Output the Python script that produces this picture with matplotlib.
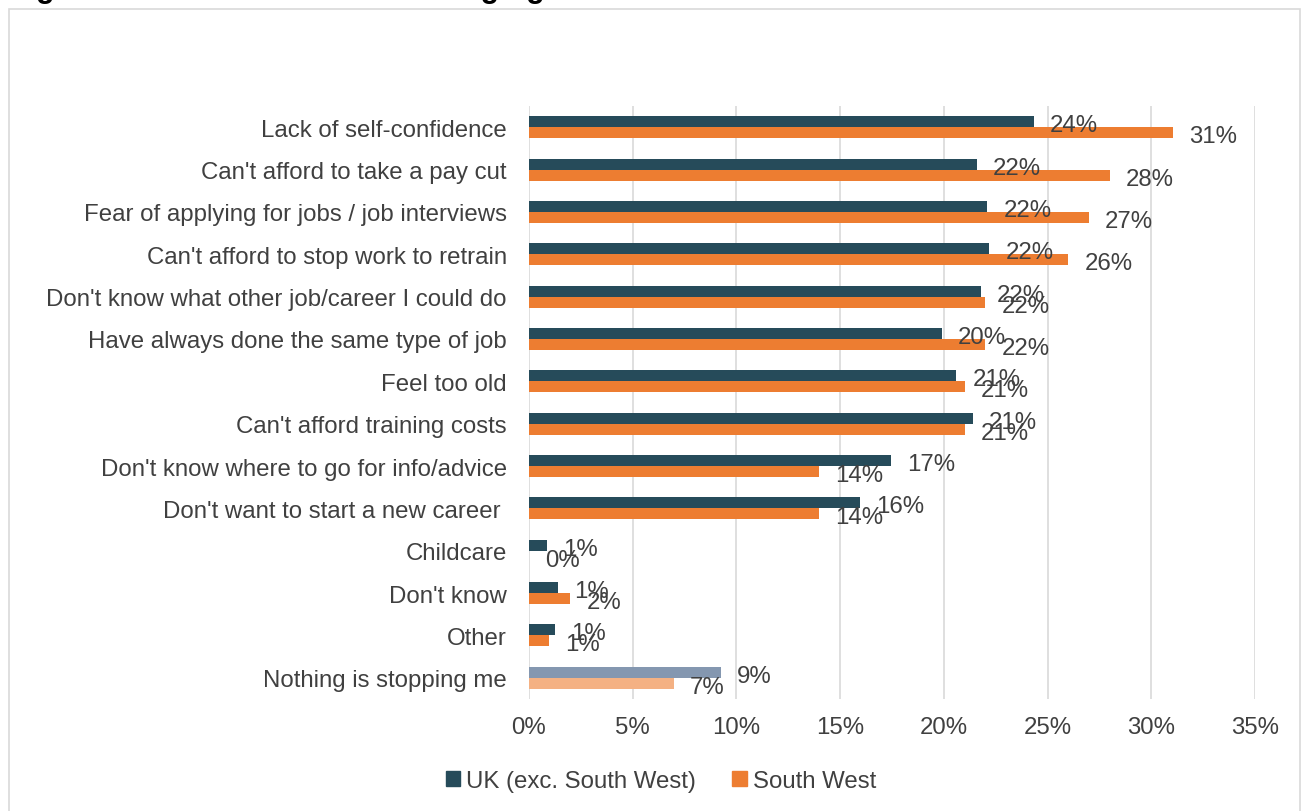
import matplotlib
matplotlib.use("Agg")
import matplotlib.pyplot as plt
from matplotlib.patches import Patch, Rectangle
import numpy as np

plt.rcParams['font.family'] = ['Liberation Sans', 'DejaVu Sans']

# barriers to changing career, share of respondents
categories = ["Lack of self-confidence",
              "Can't afford to take a pay cut",
              "Fear of applying for jobs / job interviews",
              "Can't afford to stop work to retrain",
              "Don't know what other job/career I could do",
              "Have always done the same type of job",
              "Feel too old",
              "Can't afford training costs",
              "Don't know where to go for info/advice",
              "Don't want to start a new career ",
              "Childcare",
              "Don't know",
              "Other",
              "Nothing is stopping me"]
uk_exc_sw = [24.35, 21.6, 22.1, 22.2, 21.8, 19.9, 20.6, 21.4, 17.45, 15.96,
             0.87, 1.4, 1.25, 9.26]
south_west = [31.05, 28.0, 27.0, 26.0, 22.0, 22.0, 21.0, 21.0, 14.0, 14.0,
              0.0, 2.0, 0.96, 7.0]
series_names = ["UK (exc. South West)", "South West"]

dark = "#264B5A"
orange = "#ED7D31"
dark_light = "#8497B0"
orange_light = "#F4B183"
txt = "#404040"
grid = "#D9D9D9"
fs = 17.3

fig = plt.figure(figsize=(13.06, 8.12), dpi=100)
ax = fig.add_axes([529 / 1306, 1 - 700 / 812, (1255 - 529) / 1306, (700 - 107) / 812])

# outer chart frame
fig.patches.append(Rectangle((9 / 1306, -0.05), (1300 - 9) / 1306, 1.05 - 10 / 812,
                             transform=fig.transFigure, fill=False,
                             edgecolor=grid, linewidth=1.2))

# title line sits above the canvas
fig.text(9 / 1306, 1 + 2.5 / 812, "Figure 5: Barriers to career changing",
         fontsize=22, fontweight='bold', color='black', va='baseline', ha='left')

y = np.arange(len(categories))
h = 0.26
last = len(categories) - 1
c1 = [dark_light if i == last else dark for i in y]
c2 = [orange_light if i == last else orange for i in y]
ax.barh(y - h / 2, uk_exc_sw, height=h, color=c1, zorder=3)
ax.barh(y + h / 2, south_west, height=h, color=c2, zorder=3)

for vals, off in ((uk_exc_sw, -h / 2), (south_west, h / 2)):
    for i, v in enumerate(vals):
        ax.annotate(f"{v:.0f}%", (v, i + off), xytext=(11.5, -2.5),
                    textcoords='offset points', ha='left', va='center',
                    fontsize=fs, color=txt, zorder=4)

ax.set_xlim(0, 35)
ax.set_ylim(len(categories) - 0.5, -0.5)
ax.set_xticks(np.arange(0, 36, 5))
ax.set_xticklabels([f"{t}%" for t in range(0, 36, 5)])
ax.set_yticks(y)
ax.set_yticklabels(categories)
ax.tick_params(axis='both', length=0, labelsize=fs, labelcolor=txt)
ax.tick_params(axis='y', pad=16)
ax.tick_params(axis='x', pad=12)
ax.grid(axis='x', color=grid, linewidth=1.2, zorder=0)
for s in ax.spines.values():
    s.set_visible(False)

handles = [Patch(color=dark), Patch(color=orange)]
fig.legend(handles, series_names, loc='center', bbox_to_anchor=(0.506, 1 - 782 / 812),
           ncol=2, frameon=False, fontsize=fs, labelcolor=txt,
           handlelength=0.6, handleheight=0.6, handletextpad=0.25, columnspacing=1.5)

fig.savefig("out.png", dpi=100)
